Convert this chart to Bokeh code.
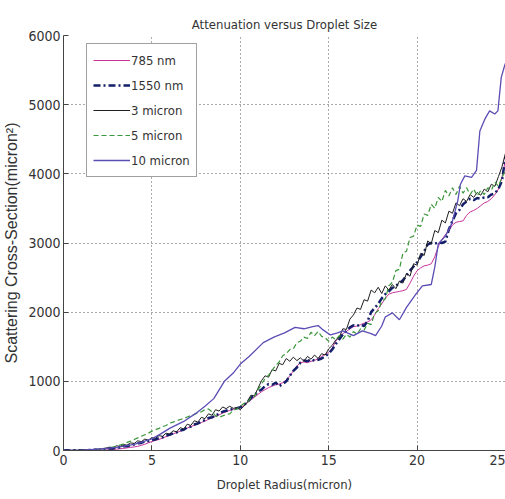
from bokeh.plotting import figure
from bokeh.models import Legend, LegendItem, Range1d, FixedTicker
from bokeh.embed import file_html
from bokeh.resources import INLINE

# ---------------- data ----------------
x_grid = [round(i * 0.2, 1) for i in range(126)]  # 0.0 .. 25.0, sample positions

nm785 = [0, 0, 0, 1, 1, 2, 2, 3, 3, 4, 5, 6, 8, 10, 15, 20, 25, 30, 38, 45,
         52, 60, 75, 90, 110, 130, 145, 160, 180, 200, 220, 240, 258, 280, 300, 325, 345, 365, 385, 405,
         425, 450, 470, 495, 515, 540, 560, 580, 595, 610, 625, 650, 690, 730, 770, 810, 850, 880, 910, 930,
         950, 960, 980, 1020, 1080, 1150, 1220, 1270, 1280, 1270, 1290, 1300, 1330, 1360, 1390, 1420, 1480, 1580, 1640, 1690,
         1720, 1760, 1790, 1800, 1820, 1840, 1860, 1890, 1960, 2050, 2120, 2200, 2260, 2280, 2290, 2300, 2310, 2330, 2420, 2520,
         2600, 2640, 2670, 2680, 2700, 2800, 2950, 3050, 3120, 3180, 3260, 3300, 3310, 3320, 3400, 3450, 3470, 3500, 3540, 3580,
         3600, 3640, 3700, 3780, 3950, 4200]

nm1550 = [0, 2, 0, 4, 2, 5, 3, 8, 6, 12, 10, 18, 16, 28, 30, 42, 45, 60, 62, 80,
          88, 105, 110, 130, 135, 152, 160, 180, 190, 215, 228, 250, 262, 290, 300, 335, 345, 375, 390, 420,
          440, 470, 480, 510, 530, 560, 575, 590, 600, 610, 625, 660, 700, 760, 800, 850, 880, 930, 960, 950,
          980, 930, 960, 1000, 1080, 1150, 1200, 1270, 1300, 1290, 1320, 1300, 1310, 1330, 1360, 1400, 1460, 1540, 1610, 1680,
          1730, 1780, 1810, 1800, 1820, 1800, 1870, 2000, 2060, 2120, 2200, 2260, 2300, 2350, 2380, 2420, 2460, 2530, 2600, 2660,
          2720, 2800, 2880, 2980, 3000, 2990, 3010, 3000, 3020, 3200, 3320, 3430, 3480, 3560, 3600, 3640, 3620, 3650, 3640, 3660,
          3660, 3700, 3720, 3780, 3900, 4250]

um3 = [0, 4, 2, 6, 3, 8, 5, 12, 9, 18, 14, 28, 35, 48, 42, 68, 60, 85, 78, 110,
       102, 140, 128, 165, 150, 185, 178, 215, 205, 250, 238, 285, 270, 330, 310, 380, 362, 430, 410, 480,
       460, 530, 510, 590, 570, 630, 605, 640, 610, 620, 590, 640, 700, 800, 790, 900, 1010, 1080, 1060, 1170,
       1150, 1260, 1240, 1330, 1290, 1350, 1300, 1340, 1290, 1360, 1320, 1380, 1330, 1400, 1380, 1470, 1520, 1600, 1640, 1760,
       1750, 1900, 1960, 2060, 2040, 2180, 2160, 2320, 2280, 2360, 2270, 2380, 2320, 2400, 2340, 2450, 2420, 2560, 2520, 2700,
       2680, 2850, 2820, 3030, 2990, 3180, 3150, 3330, 3290, 3460, 3430, 3580, 3540, 3640, 3600, 3700, 3660, 3730, 3690, 3780,
       3740, 3850, 3820, 3960, 4100, 4300]

um5 = [0, 0, 2, 0, 3, 2, 5, 4, 8, 10, 14, 20, 28, 38, 50, 62, 80, 95, 118, 135,
       160, 182, 205, 228, 250, 280, 300, 320, 345, 362, 395, 410, 430, 448, 462, 485, 505, 520, 545, 560,
       590, 600, 560, 500, 480, 500, 520, 530, 580, 600, 640, 680, 700, 760, 780, 880, 960, 1040, 1090, 1160,
       1230, 1280, 1370, 1400, 1460, 1470, 1560, 1580, 1640, 1620, 1710, 1660, 1720, 1650, 1630, 1580, 1640, 1600, 1660, 1610,
       1680, 1640, 1720, 1680, 1760, 1740, 1840, 1820, 1980, 2020, 2160, 2190, 2380, 2430, 2600, 2620, 2860, 2880, 3080, 3100,
       3260, 3240, 3420, 3400, 3560, 3500, 3660, 3600, 3760, 3680, 3800, 3700, 3820, 3720, 3800, 3700, 3780, 3680, 3760, 3700,
       3800, 3760, 3880, 3820, 3950, 4050]

x10 = [0, 1, 2, 3, 4, 5, 5.5, 6, 6.8, 7.5, 8, 8.5, 9.1, 9.6, 10, 10.5, 11.3, 11.9, 12.5, 13.1,
       13.6, 14.1, 14.4, 14.7, 15.1, 15.5, 15.8, 16.4, 16.9, 17.4, 17.65, 18.0, 18.2, 18.6, 19.0, 19.4, 19.9, 20.3, 20.8, 21.0,
       21.2, 21.6, 21.96, 22.3, 22.45, 22.7, 23.08, 23.36, 23.55, 23.83, 24.1, 24.39, 24.57, 24.76, 24.95, 25.0]
um10 = [0, 5, 20, 45, 90, 168, 240, 320, 420, 540, 640, 750, 1000, 1120, 1250, 1360, 1560, 1640, 1700, 1780,
        1760, 1790, 1806, 1740, 1670, 1700, 1730, 1660, 1730, 1690, 1662, 1800, 1930, 1990, 1890, 2070, 2250, 2380, 2400, 2650,
        2990, 3100, 3280, 3610, 3850, 3970, 3950, 4050, 4620, 4790, 4910, 4865, 4910, 5395, 5563, 5600]

series_names = ["785 nm", "1550 nm", "3 micron", "5 micron", "10 micron"]
x_ticks = [0, 5, 10, 15, 20, 25]
y_ticks = [0, 1000, 2000, 3000, 4000, 5000, 6000]

NARROW = "Liberation Sans Narrow, DejaVu Sans Condensed, Roboto Condensed, Liberation Sans, sans-serif"
REG = "Liberation Sans, Arial, sans-serif"

p = figure(width=505, height=499, output_backend="svg", toolbar_location=None,
           x_range=Range1d(0, 25), y_range=Range1d(0, 6000),
           min_border_left=58, min_border_right=0, min_border_top=35, min_border_bottom=49,
           title="Attenuation versus Droplet Size")
p.background_fill_color = "white"
p.border_fill_color = "white"
p.outline_line_color = None

p.title.align = "center"
p.title.vertical_align = "middle"
p.title.text_font = NARROW
p.title.text_font_size = "13px"
p.title.text_font_style = "normal"
p.title.text_color = "#333333"
p.title.offset = 0
p.title.standoff = 5

for ax in (p.xaxis[0], p.yaxis[0]):
    ax.axis_line_color = "#444444"
    ax.major_tick_line_color = "#444444"
    ax.major_tick_in = 5
    ax.major_tick_out = 0
    ax.minor_tick_line_color = None
    ax.major_label_text_font = NARROW
    ax.major_label_text_font_size = "14px"
    ax.major_label_text_color = "#333333"
    ax.axis_label_text_font_style = "normal"
    ax.axis_label_text_color = "#333333"

p.xaxis.ticker = FixedTicker(ticks=x_ticks)
p.yaxis.ticker = FixedTicker(ticks=y_ticks)
p.xaxis.axis_label = "Droplet Radius(micron)"
p.xaxis.axis_label_text_font = NARROW
p.xaxis.axis_label_text_font_size = "13px"
p.xaxis.major_label_standoff = 4
p.xaxis.axis_label_standoff = 9
p.yaxis.axis_label = "Scattering Cross-Section(micron\u00b2)"
p.yaxis.axis_label_text_font = REG
p.yaxis.axis_label_text_font_size = "16px"
p.yaxis.major_label_standoff = 3
p.yaxis.axis_label_standoff = 5

for g in (p.xgrid[0], p.ygrid[0]):
    g.grid_line_color = "#444444"
    g.grid_line_dash = "1 3"
    g.grid_line_alpha = 0.9
    g.grid_line_width = 1

r1 = p.line(x_grid, nm785, line_color="#c8349c", line_width=1)
r2 = p.line(x_grid, nm1550, line_color="#131f6a", line_width=2.5, line_dash="7 3 2 3")
r3 = p.line(x_grid, um3, line_color="#1e1e1e", line_width=1)
r4 = p.line(x_grid, um5, line_color="#3a963a", line_width=1.2, line_dash="5 3")
r5 = p.line(x10, um10, line_color="#5a4db4", line_width=1.3)

legend = Legend(items=[LegendItem(label=n, renderers=[r]) for n, r in
                       zip(series_names, [r1, r2, r3, r4, r5])],
                location=(23, 273), orientation="vertical",
                glyph_width=37, glyph_height=20, label_height=20, spacing=5,
                padding=6, margin=0, label_standoff=1,
                label_text_font=NARROW, label_text_font_size="13px",
                label_text_color="#333333",
                border_line_color="#444444", border_line_width=1,
                background_fill_color="white", background_fill_alpha=1)
p.add_layout(legend)

open("out.html", "w").write(file_html(p, INLINE))
